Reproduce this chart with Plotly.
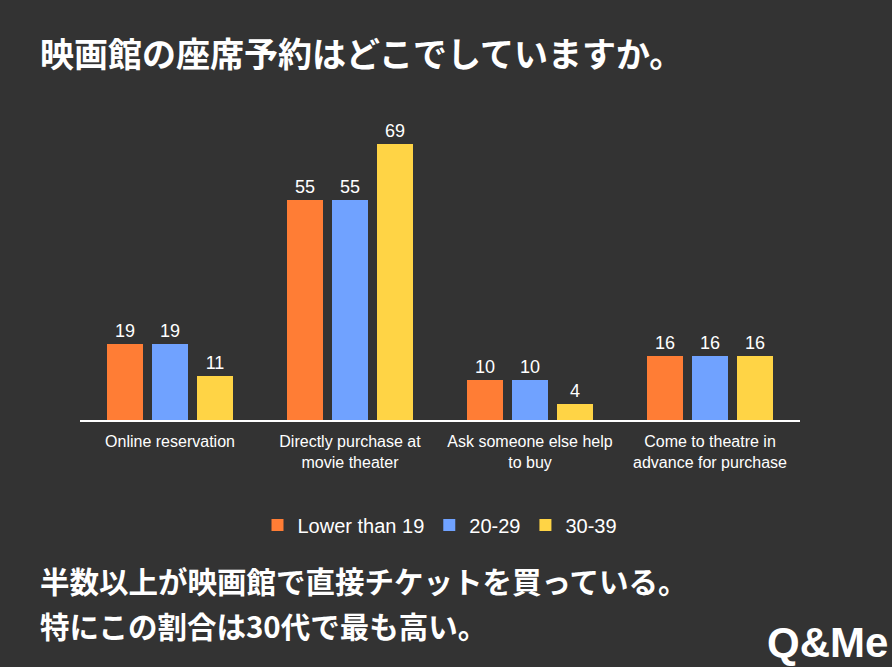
import plotly.graph_objects as go

categories = ["Online reservation", "Directly purchase at<br>movie theater",
              "Ask someone else help<br>to buy", "Come to theatre in<br>advance for purchase"]
series_names = ["Lower than 19", "20-29", "30-39"]
lower_19 = [19, 55, 10, 16]
age_20_29 = [19, 55, 10, 16]
age_30_39 = [11, 69, 4, 16]
colors = ["#FF7D35", "#70A2FF", "#FFD445"]

title_text = "映画館の座席予約はどこでしていますか。"
note_line1 = "半数以上が映画館で直接チケットを買っている。"
note_line2 = "特にこの割合は30代で最も高い。"

fig = go.Figure()
for name, vals, col in zip(series_names, [lower_19, age_20_29, age_30_39], colors):
    fig.add_trace(go.Bar(
        x=categories, y=vals, name=name,
        marker=dict(color=col, line=dict(width=0)),
        text=vals, textposition="outside",
        textfont=dict(color="white", size=18, family="Liberation Sans, Arial"),
        cliponaxis=False,
    ))

fig.update_layout(
    width=892, height=667,
    paper_bgcolor="#333333", plot_bgcolor="#333333",
    margin=dict(l=80, r=92, t=100, b=247),
    barmode="group", bargap=0.25, bargroupgap=0.2,
    font=dict(family="Liberation Sans, Arial", color="white"),
    showlegend=True,
    legend=dict(orientation="h", x=0.5, xanchor="center", y=-0.328, yanchor="middle",
                font=dict(size=20, color="white"), bgcolor="rgba(0,0,0,0)",
                traceorder="normal"),
    xaxis=dict(showline=True, linecolor="white", linewidth=2, ticks="",
               tickfont=dict(size=16, color="white", lineposition="none"), showgrid=False,
               zeroline=False, ticklabelstandoff=6),
    yaxis=dict(range=[0, 80], visible=False, showgrid=False, zeroline=False),
    annotations=[
        dict(text=title_text, xref="paper", yref="paper", x=-0.058, y=1.147,
             xanchor="left", yanchor="middle", showarrow=False,
             font=dict(size=34, color="white", family="Noto Sans CJK JP", weight="bold")),
        dict(text=note_line1, xref="paper", yref="paper", x=-0.058, y=-0.5,
             xanchor="left", yanchor="middle", showarrow=False,
             font=dict(size=29.5, color="white", family="Noto Sans CJK JP", weight="bold")),
        dict(text=note_line2, xref="paper", yref="paper", x=-0.058, y=-0.64,
             xanchor="left", yanchor="middle", showarrow=False,
             font=dict(size=29.5, color="white", family="Noto Sans CJK JP", weight="bold")),
        dict(text="<b>Q&amp;Me</b>", xref="paper", yref="paper", x=1.125, y=-0.695,
             xanchor="right", yanchor="middle", showarrow=False,
             font=dict(size=42, color="white", family="Liberation Sans Narrow, Liberation Sans, Arial")),
    ],
)

fig.write_html("out.html", config={"displayModeBar": False},
               post_script="document.body.style.margin='0';")
